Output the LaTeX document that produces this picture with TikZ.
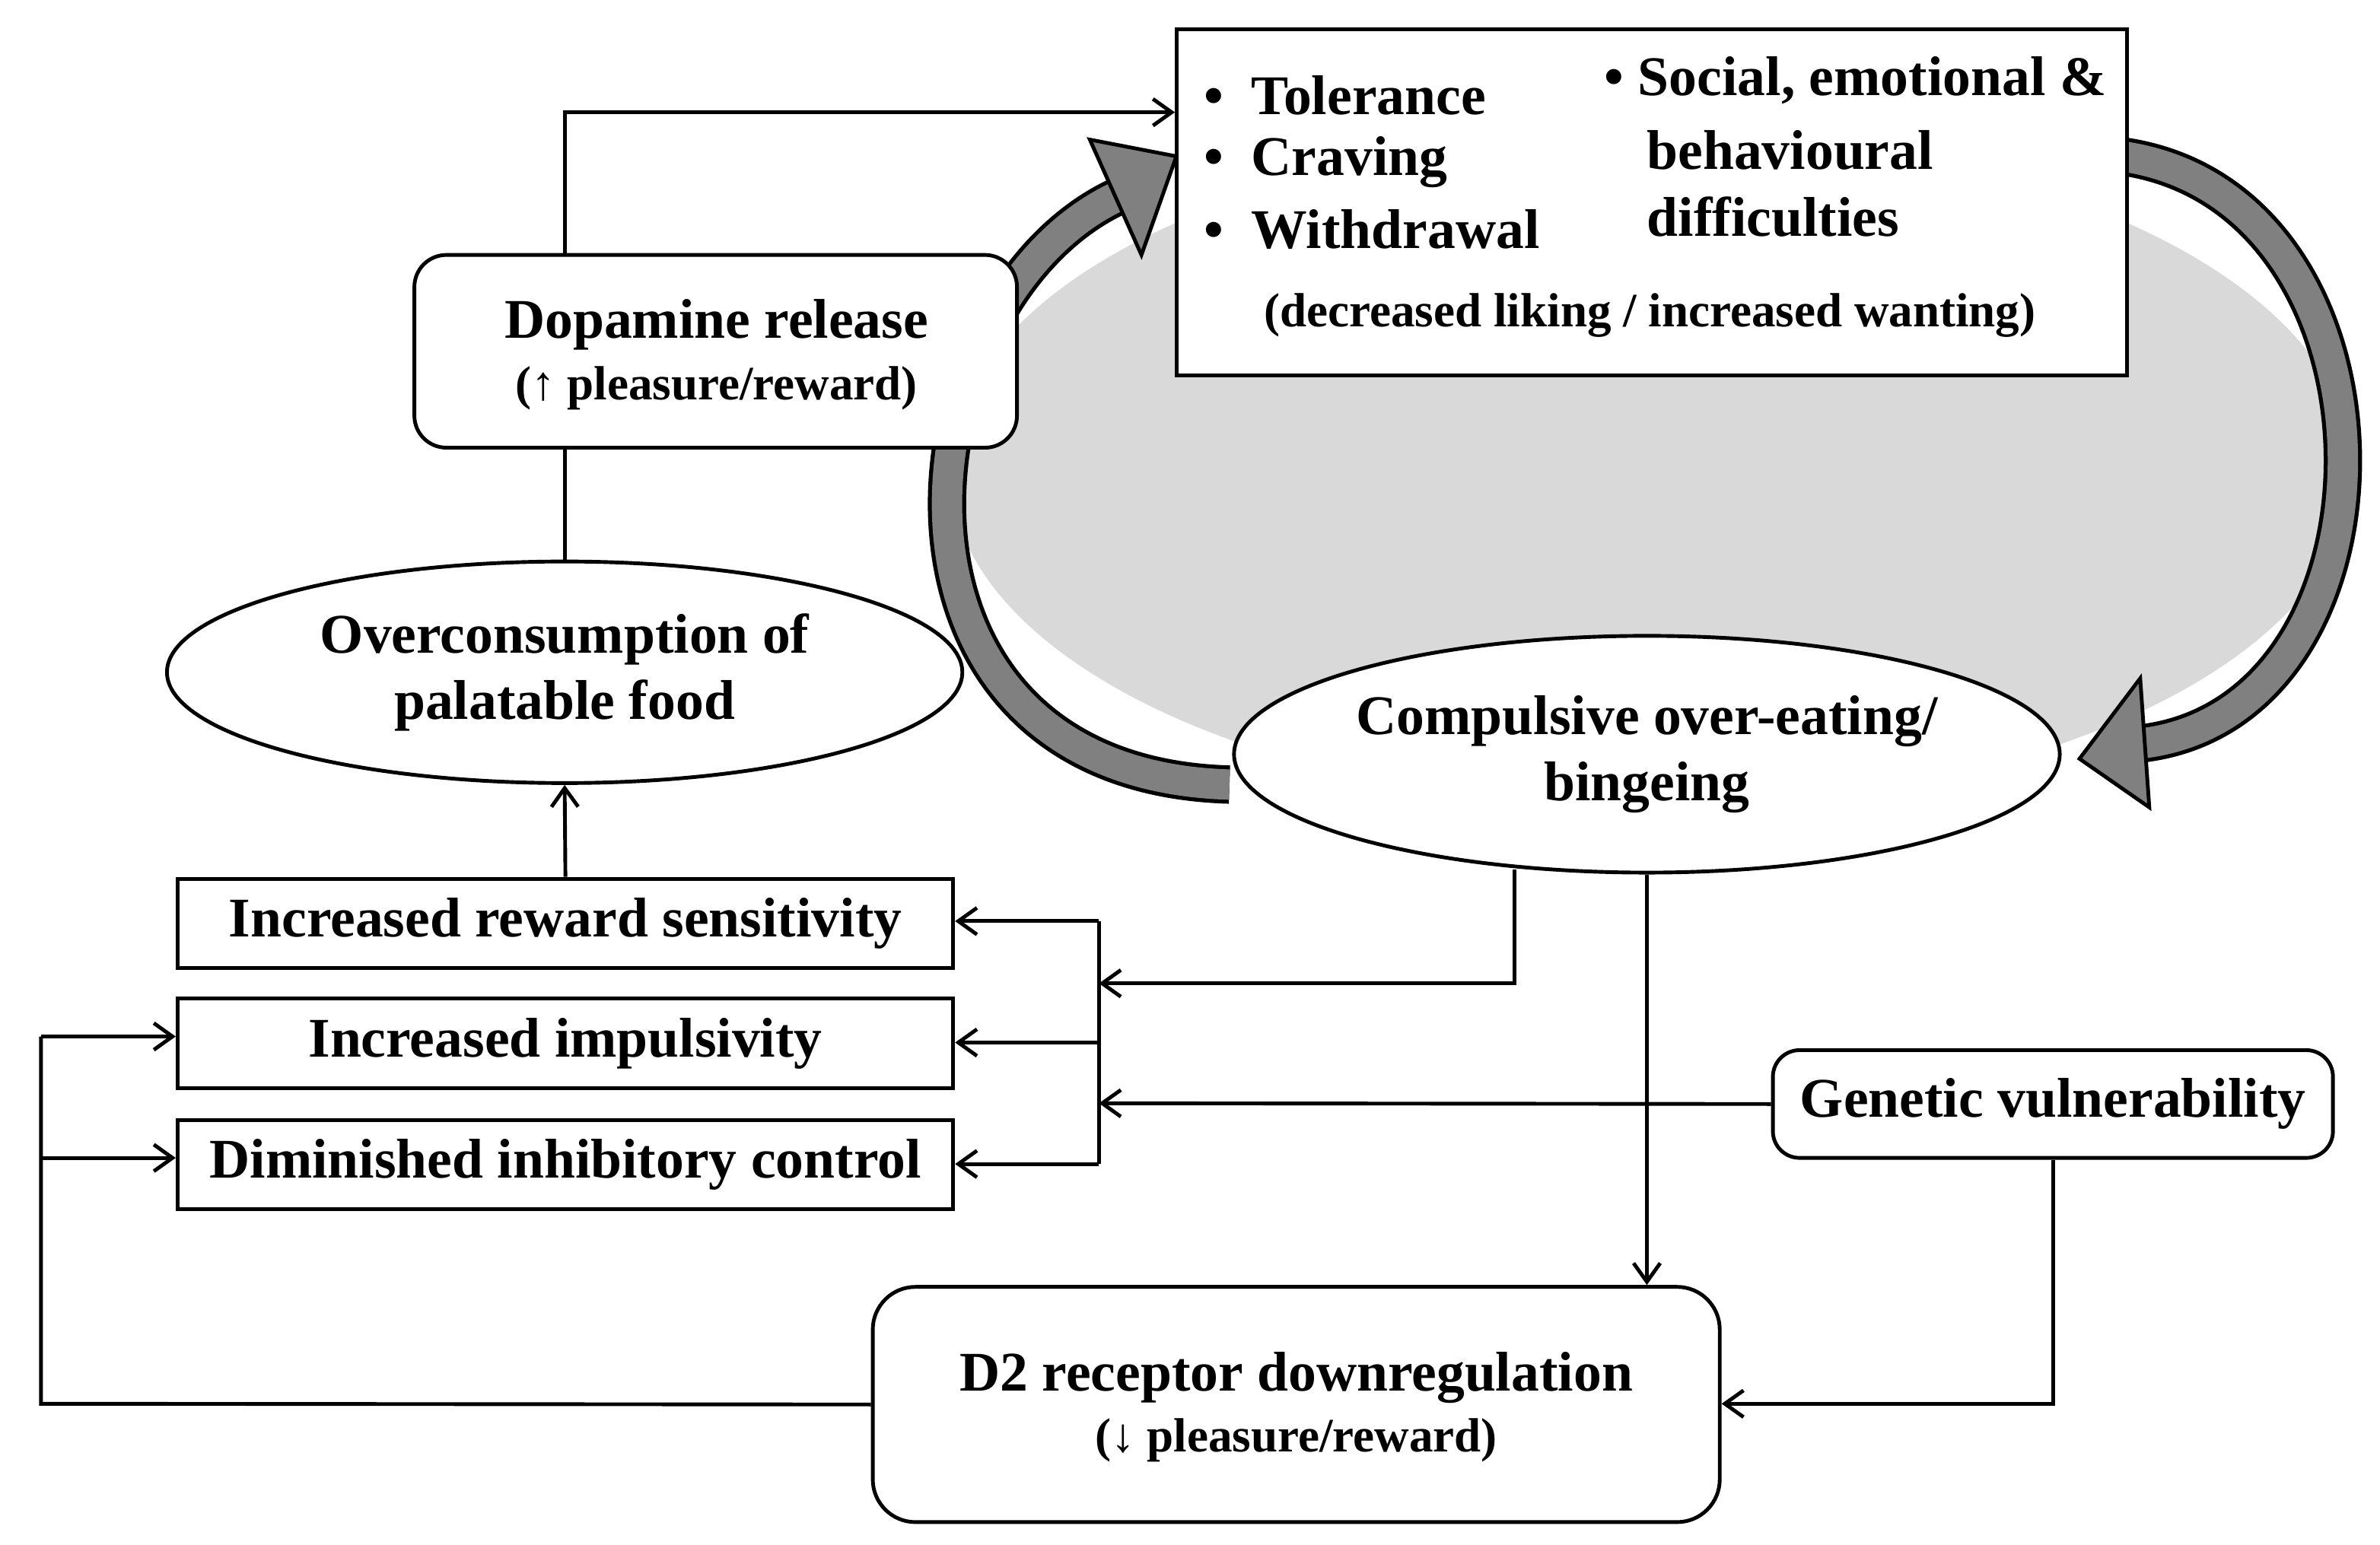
\documentclass[tikz,border=0pt]{standalone}
\usepackage{fontspec}
\setmainfont{Liberation Serif}
\usetikzlibrary{arrows.meta,shapes.geometric}
\begin{document}
\begin{tikzpicture}[x=0.02cm,y=-0.02cm,line width=1.4pt,
  >={Straight Barb[length=7pt,width=10pt,line width=1.4pt]},
  txt/.style={font=\fontsize{21}{25}\selectfont\bfseries},
  sm/.style={font=\fontsize{18}{21}\selectfont\bfseries},
  box/.style={draw,fill=white,minimum height=59*0.02cm,minimum width=511*0.02cm,txt},
  el/.style={draw,ellipse,fill=white,txt,align=center,inner sep=0pt}]
\useasboundingbox (0,0) rectangle (1568,1017.6);
% gray background
\fill[gray!30] (1088,310) ellipse [x radius=462, y radius=222];
% left arrow
\draw[line width=20*0.02cm+3pt,black] (810,517) .. controls (560,510) and (590,200) .. (735,130);
\draw[line width=20*0.02cm,color=gray] (810,517) .. controls (560,510) and (590,200) .. (735,130);
\draw[fill=gray] (718,92) -- (775,103) -- (752,168) -- cycle;
% right arrow
\draw[line width=20*0.02cm+3pt,black] (1398,103) .. controls (1590,130) and (1590,470) .. (1410,490);
\draw[line width=20*0.02cm,color=gray] (1398,103) .. controls (1590,130) and (1590,470) .. (1410,490);
\draw[fill=gray] (1410,447) -- (1370,500) -- (1416,532) -- cycle;
% top box
\node[draw,fill=white,minimum width=626*0.02cm,minimum height=228*0.02cm,anchor=north west] (top) at (774,18) {};
\node[txt,anchor=west] (t1) at (786,63) {\textbullet\ \ Tolerance};
\node[txt,anchor=west] (t2) at (786,107) {\textbullet\ \ Craving};
\node[txt,anchor=west] (t3) at (786,151) {\textbullet\ \ Withdrawal};
\node[txt,anchor=west] (t4) at (1050,53) {\textbullet\ Social, emotional \&};
\node[txt,anchor=west] (t5) at (1078,99) {behavioural};
\node[txt,anchor=west] (t6) at (1078,143) {difficulties};
\node[sm] (t7) at (1087,208) {(decreased liking / increased wanting)};
% dopamine
\node[draw,rounded corners=12pt,fill=white,minimum width=397*0.02cm,minimum height=127*0.02cm] (dop) at (471.5,231.5) {};
\node[txt] (d1) at (472,214) {Dopamine release};
\node[sm] (d2) at (472,256) {(↑ pleasure/reward)};
% ellipses
\node[el,minimum width=524*0.02cm,minimum height=146*0.02cm] (over) at (372,443) {Overconsumption of\\palatable food};
\node[el,minimum width=544*0.02cm,minimum height=156*0.02cm] (comp) at (1085,497) {Compulsive over-eating/\\bingeing};
% boxes
\node[box] (rew) at (372.5,608.5) {Increased reward sensitivity};
\node[box] (imp) at (372.5,687.5) {Increased impulsivity};
\node[box] (inh) at (372.5,767.5) {Diminished inhibitory control};
\node[draw,rounded corners=10pt,fill=white,minimum width=369*0.02cm,minimum height=71*0.02cm,txt] (gen) at (1352.5,727.5) {Genetic vulnerability};
\node[draw,rounded corners=16pt,fill=white,minimum width=558*0.02cm,minimum height=155*0.02cm] (d2r) at (854,925.5) {};
\node[txt] (r1) at (854,908) {D2 receptor downregulation};
\node[sm] (r2) at (854,949) {(↓ pleasure/reward)};
% connectors
\coordinate (b1) at (724,607);
\coordinate (b2) at (724,687);
\coordinate (b3) at (724,767);
\coordinate (c1) at (724,648);
\coordinate (c2) at (724,727);
\draw[->] (dop.north -| over.north) -- (372,74) -- (top.west |- 0,74);
\draw (over.north) -- (dop.south -| over.north);
\draw[->] (rew.north) -- (over.south);
\draw[->] (998,573) -- (998,648) -- (c1);
\draw[->] (comp.south) -- (d2r.north -| comp.south);
\draw[->] (gen.west) -- (c2);
\draw (b1) -- (b3);
\draw[->] (b1) -- (rew.east |- b1);
\draw[->] (b2) -- (imp.east |- b2);
\draw[->] (b3) -- (inh.east |- b3);
\draw[->] (gen.south) -- (1352.5,925) -- (d2r.east |- 0,925);
\draw (d2r.west) -- (27,925) -- (27,683);
\draw[->] (27,683) -- (imp.west |- 0,683);
\draw[->] (27,763) -- (inh.west |- 0,763);
\end{tikzpicture}
\end{document}
